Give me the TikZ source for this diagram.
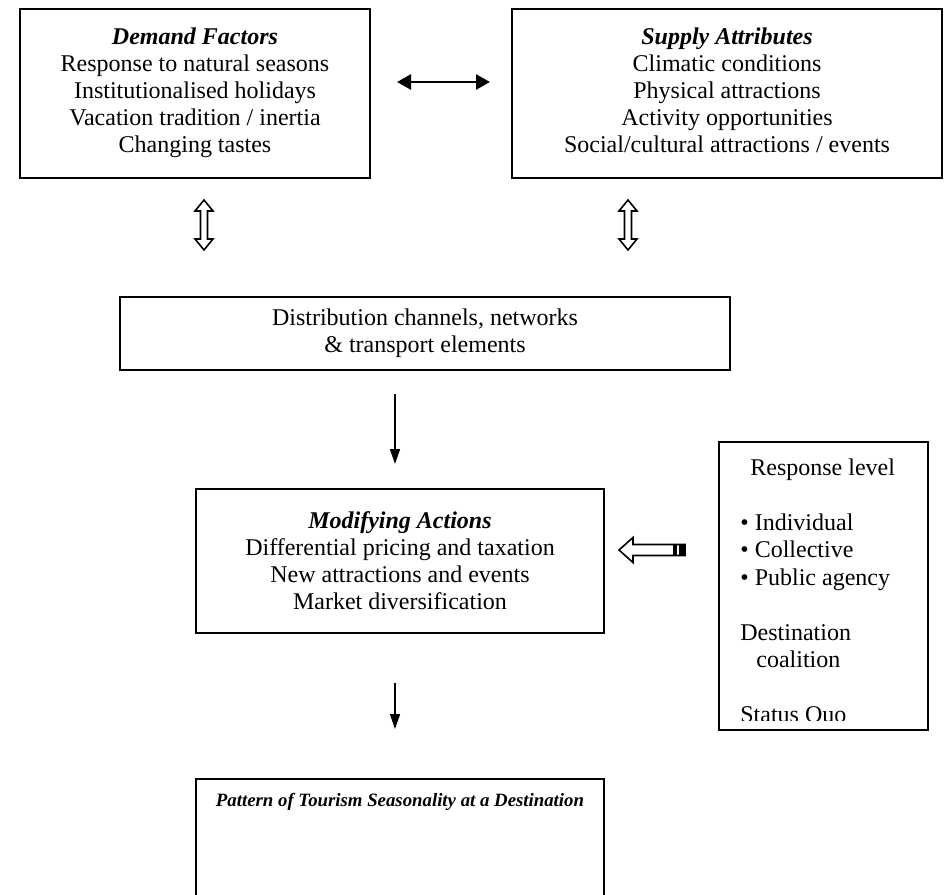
\documentclass[tikz,border=0pt]{standalone}
\usepackage{fontspec}
\setmainfont{Liberation Serif}
\usetikzlibrary{arrows.meta,positioning}

\tikzset{
  box/.style={draw, line width=1pt, align=center, inner sep=0pt,
    font=\fontsize{12}{13.5}\selectfont},
  flow/.style={draw, line width=0.8pt, -{Triangle[length=7.5pt,width=5pt]}},
  both/.style={draw, line width=1.3pt, {Triangle[length=7pt,width=7.5pt]}-{Triangle[length=7pt,width=7.5pt]}},
  hollow/.style={draw, line width=0.8pt, fill=white},
}

\begin{document}
\begin{tikzpicture}[x=0.5pt,y=-0.5pt]
\clip (0,0) rectangle (944,895);
% top row
\node[box, minimum width=175pt, minimum height=84.5pt] (demand) at (195,93.5) {\strut\textbf{\textit{Demand Factors}}\\Response to natural seasons\\Institutionalised holidays\\Vacation tradition / inertia\\Changing tastes\strut};
\node[box, minimum width=215pt, minimum height=84.5pt] (supply) at (727,93.5) {\strut\textbf{\textit{Supply Attributes}}\\Climatic conditions\\Physical attractions\\Activity opportunities\\Social/cultural attractions / events\strut};
\path[both, shorten <=13pt, shorten >=10.5pt] ([yshift=5.75pt]demand.east) -- ([yshift=5.75pt]supply.west);
% hollow two-way arrows
\draw[hollow] (204,200) -- ++(9,11) -- ++(-5.5,0) -- ++(0,28) -- ++(5.5,0) -- ++(-9,11) -- ++(-9,-11) -- ++(5.5,0) -- ++(0,-28) -- ++(-5.5,0) -- cycle;
\draw[hollow] (628,200) -- ++(9,11) -- ++(-5.5,0) -- ++(0,28) -- ++(5.5,0) -- ++(-9,11) -- ++(-9,-11) -- ++(5.5,0) -- ++(0,-28) -- ++(-5.5,0) -- cycle;
% middle
\node[box, minimum width=305pt, minimum height=36.5pt] (dist) at (425,333.5) {Distribution channels, networks\\\& transport elements};
\node[box, minimum width=204pt, minimum height=72pt] (mod) at (400,561) {\textbf{\textit{Modifying Actions}}\\Differential pricing and taxation\\New attractions and events\\Market diversification};
\path[flow, shorten <=11.5pt, shorten >=12pt] ([xshift=-2.5pt]dist.south -| mod.north) -- ([xshift=-2.5pt]mod.north);
% response level
\node[box, minimum width=104.5pt, minimum height=144pt] (resp) at (823.5,586) {};
\begin{scope}
\clip (719,442) rectangle (928,720);
\node[anchor=north west, align=left, inner sep=0pt, font=\fontsize{12}{13.75}\selectfont] (resptext) at (740,458) {\hspace*{5pt}Response level\\[13.75pt]\textbullet\ Individual\\\textbullet\ Collective\\\textbullet\ Public agency\\[13.75pt]Destination\\\hspace*{8pt}coalition\\[13.75pt]Status Quo};
\end{scope}
\draw[hollow] (619,550) -- ++(14,-12.5) -- ++(0,7) -- ++(52,0) -- ++(0,11) -- ++(-52,0) -- ++(0,7) -- cycle;
\fill (673,544.5) rectangle (677,555.5);
\fill (679,544.5) rectangle (685,555.5);
% bottom
\node[box, minimum width=204pt, minimum height=80pt, anchor=north] (pat) at (400,778) {};
\node[below=7.5pt of pat.north, inner sep=0pt, font=\fontsize{9.4}{11}\selectfont\bfseries\itshape] (pattitle) {Pattern of Tourism Seasonality at a Destination};
\path[flow, shorten <=24.5pt, shorten >=24.5pt] ([xshift=-2.5pt]mod.south) -- ([xshift=-2.5pt]pat.north);
\end{tikzpicture}
\end{document}
